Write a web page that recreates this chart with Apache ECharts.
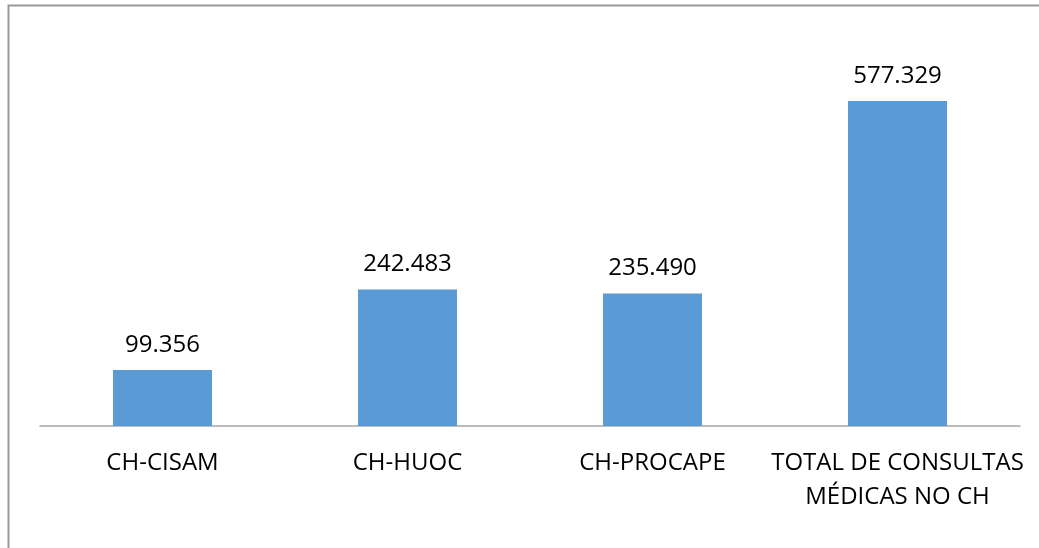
<!DOCTYPE html>
<html>
<head>
<meta charset="utf-8">
<script src="https://cdn.jsdelivr.net/npm/echarts@6/dist/echarts.min.js"></script>
<style>
  html, body { margin: 0; padding: 0; background: #fff; }
  #chart { width: 1039px; height: 548px; }
</style>
</head>
<body>
<div id="chart"></div>
<script>
// consultas médicas por unidade
var categorias = ['CH-CISAM', 'CH-HUOC', 'CH-PROCAPE', 'TOTAL DE CONSULTAS\nMÉDICAS NO CH'];
var consultas = [99356, 242483, 235490, 577329];

function fmt(v) {
  return String(v).replace(/\B(?=(\d{3})+(?!\d))/g, '.');
}

var chart = echarts.init(document.getElementById('chart'));

chart.setOption({
  animation: false,
  textStyle: { fontFamily: 'Open Sans' },
  graphic: [{
    type: 'rect',
    shape: { x: 8.5, y: 5.5, width: 1100, height: 600 },
    style: { fill: 'none', stroke: '#9a9a9a', lineWidth: 2 },
    silent: true
  }],
  grid: { left: 40, right: 19, top: 32, bottom: 122 },
  xAxis: {
    type: 'category',
    data: categorias,
    axisLine: { lineStyle: { color: '#a6a6a6', width: 1.5 } },
    axisTick: { show: false },
    axisLabel: {
      color: '#000',
      fontSize: 24,
      lineHeight: 34,
      margin: 20,
      interval: 0
    }
  },
  yAxis: {
    type: 'value',
    min: 0,
    max: 700000,
    show: false,
    splitLine: { show: false }
  },
  series: [{
    type: 'bar',
    data: consultas,
    barWidth: 99,
    itemStyle: { color: '#5b9bd5' },
    label: {
      show: true,
      position: 'top',
      distance: 13,
      color: '#000',
      fontSize: 24,
      formatter: function (p) { return fmt(p.value); }
    }
  }]
});
</script>
</body>
</html>
